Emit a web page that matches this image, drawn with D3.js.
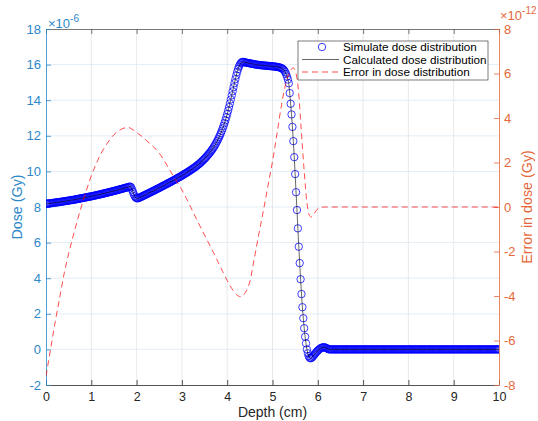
<!DOCTYPE html>
<html>
<head>
<meta charset="utf-8">
<script src="https://cdn.jsdelivr.net/npm/d3@7"></script>
<style>
body { margin: 0; background: #fff; }
text { font-family: "Liberation Sans", Arial, Helvetica, sans-serif; }
</style>
</head>
<body>
<div id="chart"></div>
<script>
var width = 538,
    height = 421;
var margin = {left: 46, right: 39, top: 29, bottom: 36};

var blue = "#2b87c8",
    orange = "#e5683a",
    gray = "#262626";

// dose, x1e-6 Gy, one value every 0.02 cm from 0 to 10 cm
var depthStep = 0.02;
var dose = [
  8.18, 8.19, 8.19, 8.20, 8.21, 8.21, 8.22, 8.22, 8.23, 8.24,       // 0.0
  8.25, 8.25, 8.26, 8.27, 8.27, 8.28, 8.29, 8.30, 8.30, 8.31,       // 0.2
  8.32, 8.33, 8.34, 8.34, 8.35, 8.36, 8.37, 8.38, 8.39, 8.39,       // 0.4
  8.40, 8.41, 8.42, 8.43, 8.44, 8.45, 8.46, 8.47, 8.48, 8.49,       // 0.6
  8.50, 8.51, 8.52, 8.53, 8.54, 8.55, 8.56, 8.57, 8.58, 8.59,       // 0.8
  8.60, 8.61, 8.62, 8.63, 8.64, 8.66, 8.67, 8.68, 8.69, 8.70,       // 1.0
  8.71, 8.73, 8.74, 8.75, 8.76, 8.77, 8.79, 8.80, 8.81, 8.82,       // 1.2
  8.84, 8.85, 8.86, 8.87, 8.89, 8.90, 8.91, 8.93, 8.94, 8.95,       // 1.4
  8.97, 8.98, 9.00, 9.01, 9.02, 9.04, 9.05, 9.07, 9.08, 9.09,       // 1.6
  9.11, 9.12, 9.14, 9.15, 9.10, 8.98, 8.84, 8.71, 8.60, 8.53,       // 1.8
  8.49, 8.49, 8.50, 8.52, 8.54, 8.57, 8.59, 8.62, 8.64, 8.67,       // 2.0
  8.69, 8.72, 8.74, 8.77, 8.79, 8.82, 8.84, 8.87, 8.89, 8.92,       // 2.2
  8.94, 8.97, 9.00, 9.02, 9.05, 9.07, 9.10, 9.13, 9.15, 9.18,       // 2.4
  9.21, 9.23, 9.26, 9.29, 9.31, 9.34, 9.37, 9.39, 9.42, 9.45,       // 2.6
  9.48, 9.50, 9.53, 9.56, 9.59, 9.62, 9.65, 9.68, 9.70, 9.73,       // 2.8
  9.76, 9.79, 9.83, 9.86, 9.89, 9.92, 9.95, 9.98, 10.02, 10.05,     // 3.0
  10.08, 10.12, 10.15, 10.19, 10.22, 10.26, 10.30, 10.34, 10.38, 10.42, // 3.2
  10.46, 10.51, 10.56, 10.61, 10.66, 10.71, 10.76, 10.82, 10.88, 10.94, // 3.4
  11.00, 11.06, 11.13, 11.20, 11.27, 11.35, 11.43, 11.52, 11.61, 11.71, // 3.6
  11.81, 11.92, 12.03, 12.15, 12.28, 12.42, 12.56, 12.71, 12.87, 13.04, // 3.8
  13.22, 13.41, 13.61, 13.82, 14.04, 14.27, 14.50, 14.73, 14.96, 15.18, // 4.0
  15.39, 15.58, 15.75, 15.89, 16.00, 16.08, 16.13, 16.15, 16.15, 16.14, // 4.2
  16.12, 16.11, 16.10, 16.09, 16.08, 16.07, 16.06, 16.05, 16.04, 16.03, // 4.4
  16.02, 16.01, 16.00, 15.99, 15.99, 15.98, 15.97, 15.97, 15.96, 15.96, // 4.6
  15.95, 15.95, 15.94, 15.94, 15.93, 15.93, 15.92, 15.92, 15.91, 15.91, // 4.8
  15.90, 15.90, 15.89, 15.89, 15.88, 15.87, 15.86, 15.85, 15.84, 15.82, // 5.0
  15.80, 15.77, 15.73, 15.67, 15.58, 15.47, 15.33, 15.16, 14.95, 14.40, // 5.2
  13.80, 13.20, 12.50, 11.70, 10.80, 9.85, 8.83, 7.83, 6.80, 5.77,      // 5.4
  4.85, 3.94, 3.11, 2.37, 1.75, 1.19, 0.71, 0.34, 0.00, -0.22,          // 5.6
  -0.38, -0.47, -0.50, -0.48, -0.43, -0.37, -0.30, -0.24, -0.18, -0.12, // 5.8
  -0.07, -0.02, 0.02, 0.06, 0.09, 0.11, 0.12, 0.12, 0.11, 0.09,         // 6.0
  0.06, 0.03, 0.01, 0, 0, 0, 0, 0, 0, 0,                                // 6.2
  0, 0, 0, 0, 0, 0, 0, 0, 0, 0,                                         // 6.4
  0, 0, 0, 0, 0, 0, 0, 0, 0, 0,                                         // 6.6
  0, 0, 0, 0, 0, 0, 0, 0, 0, 0,                                         // 6.8
  0, 0, 0, 0, 0, 0, 0, 0, 0, 0,                                         // 7.0
  0, 0, 0, 0, 0, 0, 0, 0, 0, 0,                                         // 7.2
  0, 0, 0, 0, 0, 0, 0, 0, 0, 0,                                         // 7.4
  0, 0, 0, 0, 0, 0, 0, 0, 0, 0,                                         // 7.6
  0, 0, 0, 0, 0, 0, 0, 0, 0, 0,                                         // 7.8
  0, 0, 0, 0, 0, 0, 0, 0, 0, 0,                                         // 8.0
  0, 0, 0, 0, 0, 0, 0, 0, 0, 0,                                         // 8.2
  0, 0, 0, 0, 0, 0, 0, 0, 0, 0,                                         // 8.4
  0, 0, 0, 0, 0, 0, 0, 0, 0, 0,                                         // 8.6
  0, 0, 0, 0, 0, 0, 0, 0, 0, 0,                                         // 8.8
  0, 0, 0, 0, 0, 0, 0, 0, 0, 0,                                         // 9.0
  0, 0, 0, 0, 0, 0, 0, 0, 0, 0,                                         // 9.2
  0, 0, 0, 0, 0, 0, 0, 0, 0, 0,                                         // 9.4
  0, 0, 0, 0, 0, 0, 0, 0, 0, 0,                                         // 9.6
  0, 0, 0, 0, 0, 0, 0, 0, 0, 0,                                         // 9.8
  0                                                                     // 10.0
];

// error in dose, x1e-12 Gy
var errDepth = [0, 0.1, 0.2, 0.3, 0.4, 0.5, 0.6, 0.7, 0.8, 0.9,
  1.0, 1.1, 1.2, 1.3, 1.4, 1.5, 1.6, 1.7, 1.8, 1.9,
  2.0, 2.1, 2.2, 2.3, 2.4, 2.5, 2.6, 2.7, 2.8, 2.9,
  3.0, 3.1, 3.2, 3.3, 3.4, 3.5, 3.6, 3.7, 3.8, 3.9,
  4.0, 4.1, 4.2, 4.3, 4.4, 4.5, 4.6, 4.7, 4.8, 4.9,
  5.0, 5.1, 5.2, 5.3, 5.4, 5.46, 5.52, 5.57, 5.63, 5.7,
  5.76, 5.82, 5.86, 5.92, 5.98, 6.06, 6.15, 7, 8, 9, 10];
var errVal = [-7.6, -6.4, -5.2, -4.1, -3.0, -2.1, -1.3, -0.55, 0.15, 0.8,
  1.4, 1.9, 2.35, 2.7, 3.0, 3.25, 3.42, 3.53, 3.58, 3.5,
  3.35, 3.2, 3.02, 2.84, 2.65, 2.42, 2.12, 1.77, 1.43, 1.1,
  0.77, 0.38, -0.03, -0.45, -0.86, -1.26, -1.66, -2.06, -2.48, -2.9,
  -3.3, -3.66, -3.93, -4.03, -3.85, -3.35, -2.3, -1.2, -0.15, 0.95,
  2.05, 3.3, 4.6, 5.6, 6.15, 6.25, 6.0, 5.3, 3.6, 1.6,
  0.2, -0.4, -0.45, -0.3, -0.12, -0.02, 0, 0, 0, 0, 0];

var xTicks = [0, 1, 2, 3, 4, 5, 6, 7, 8, 9, 10];
var yLeftTicks = [-2, 0, 2, 4, 6, 8, 10, 12, 14, 16, 18];
var yRightTicks = [-8, -6, -4, -2, 0, 2, 4, 6, 8];
var legendNames = ["Simulate dose distribution", "Calculated dose distribution", "Error in dose distribution"];

var doseData = dose.map(function (d, i) { return {x: i * depthStep, y: d}; });
var errData = errVal.map(function (d, i) { return {x: errDepth[i], y: d}; });

var x = d3.scaleLinear().domain([0, 10]).range([margin.left, width - margin.right]);
var yL = d3.scaleLinear().domain([-2, 18]).range([height - margin.bottom, margin.top]);
var yR = d3.scaleLinear().domain([-8, 8]).range([height - margin.bottom, margin.top]);

var svg = d3.select("#chart").append("svg")
    .attr("width", width)
    .attr("height", height);

svg.append("defs").append("clipPath").attr("id", "plot")
  .append("rect")
    .attr("x", margin.left).attr("y", margin.top)
    .attr("width", width - margin.left - margin.right)
    .attr("height", height - margin.top - margin.bottom);

// grid
svg.append("g").selectAll("line")
    .data(xTicks.slice(1, -1))
    .enter().append("line")
    .attr("x1", function (d) { return x(d); })
    .attr("x2", function (d) { return x(d); })
    .attr("y1", margin.top)
    .attr("y2", height - margin.bottom)
    .attr("stroke", "#e3e3e3")
    .attr("stroke-width", 0.8);
svg.append("g").selectAll("line")
    .data(yLeftTicks.slice(1, -1))
    .enter().append("line")
    .attr("x1", margin.left)
    .attr("x2", width - margin.right)
    .attr("y1", function (d) { return yL(d); })
    .attr("y2", function (d) { return yL(d); })
    .attr("stroke", "#dce9f4")
    .attr("stroke-width", 0.8);

// axes
function styleAxis(g, col, size) {
  g.select(".domain").attr("stroke", col).attr("stroke-width", 0.8);
  g.selectAll(".tick line").attr("stroke", col).attr("stroke-width", 0.8);
  g.selectAll(".tick text").attr("fill", col).style("font-size", size + "px")
    .style("font-family", '"Liberation Sans", Arial, sans-serif');
}

svg.append("g")
    .attr("transform", "translate(0," + margin.top + ")")
    .call(d3.axisTop(x).tickValues(xTicks).tickSizeInner(-5).tickSizeOuter(0).tickFormat(""))
    .call(styleAxis, "#555", 13);
svg.append("g")
    .attr("transform", "translate(0," + (height - margin.bottom) + ")")
    .call(d3.axisBottom(x).tickValues(xTicks).tickSizeInner(-5).tickSizeOuter(0).tickPadding(7))
    .call(styleAxis, gray, 12.5);
svg.append("g")
    .attr("transform", "translate(" + margin.left + ",0)")
    .call(d3.axisLeft(yL).tickValues(yLeftTicks).tickSizeInner(-5).tickSizeOuter(0).tickPadding(5))
    .call(styleAxis, blue, 13);
svg.append("g")
    .attr("transform", "translate(" + (width - margin.right) + ",0)")
    .call(d3.axisRight(yR).tickValues(yRightTicks).tickSizeInner(-5).tickSizeOuter(0).tickPadding(5)
      .tickFormat(d3.format("d")))
    .call(styleAxis, orange, 13);
svg.selectAll(".tick text").text(function () { return d3.select(this).text().replace("\u2212", "-"); });

// exponent labels
var expL = svg.append("text").attr("x", 48).attr("y", 28).attr("fill", blue).style("font-size", "13px");
expL.append("tspan").text("\u00d710");
expL.append("tspan").attr("dy", -6).style("font-size", "10px").text("-6");
var expR = svg.append("text").attr("x", 500).attr("y", 20).attr("fill", orange).style("font-size", "13px");
expR.append("tspan").text("\u00d710");
expR.append("tspan").attr("dy", -6).style("font-size", "10px").text("-12");

// axis titles
svg.append("text")
    .attr("x", (margin.left + width - margin.right) / 2)
    .attr("y", 417)
    .attr("text-anchor", "middle")
    .attr("fill", gray)
    .style("font-size", "14px")
    .text("Depth (cm)");
svg.append("text")
    .attr("transform", "translate(22," + (margin.top + height - margin.bottom) / 2 + ") rotate(-90)")
    .attr("text-anchor", "middle")
    .attr("fill", blue)
    .style("font-size", "14.3px")
    .text("Dose (Gy)");
svg.append("text")
    .attr("transform", "translate(532," + (margin.top + height - margin.bottom) / 2 + ") rotate(-90)")
    .attr("text-anchor", "middle")
    .attr("fill", orange)
    .style("font-size", "14.3px")
    .text("Error in dose (Gy)");

// data
var plot = svg.append("g").attr("clip-path", "url(#plot)");

plot.selectAll("circle")
    .data(doseData)
    .enter().append("circle")
    .attr("cx", function (d) { return x(d.x); })
    .attr("cy", function (d) { return yL(d.y); })
    .attr("r", 3.7)
    .attr("fill", "none")
    .attr("stroke", "#0000ff")
    .attr("stroke-width", 0.75);

plot.append("path")
    .datum(doseData)
    .attr("fill", "none")
    .attr("stroke", "#000")
    .attr("stroke-width", 0.6)
    .attr("d", d3.line().x(function (d) { return x(d.x); }).y(function (d) { return yL(d.y); }));

plot.append("path")
    .datum(errData)
    .attr("fill", "none")
    .attr("stroke", "#ff0000")
    .attr("stroke-width", 0.7)
    .attr("stroke-dasharray", "6,4")
    .attr("d", d3.line().curve(d3.curveMonotoneX)
      .x(function (d) { return x(d.x); }).y(function (d) { return yR(d.y); }));

// legend
var lg = svg.append("g").attr("transform", "translate(298,41)");
lg.append("rect")
    .attr("width", 190).attr("height", 39)
    .attr("fill", "#fff").attr("stroke", gray).attr("stroke-width", 0.6);
var rows = lg.selectAll("g.row")
    .data(legendNames)
    .enter().append("g")
    .attr("class", "row")
    .attr("transform", function (d, i) { return "translate(0," + (6 + i * 12.5) + ")"; });
rows.append("text")
    .attr("x", 45)
    .attr("y", 4)
    .attr("fill", "#000")
    .style("font-size", "11.7px")
    .text(function (d) { return d; });
rows.filter(function (d, i) { return i === 0; }).append("circle")
    .attr("cx", 24).attr("cy", 0).attr("r", 3.7)
    .attr("fill", "none").attr("stroke", "#0000ff").attr("stroke-width", 0.75);
rows.filter(function (d, i) { return i > 0; }).append("line")
    .attr("x1", 4).attr("x2", 41).attr("y1", 0).attr("y2", 0)
    .attr("stroke", function (d, i) { return i === 0 ? "#000" : "#ff0000"; })
    .attr("stroke-width", function (d, i) { return i === 0 ? 0.6 : 0.7; })
    .attr("stroke-dasharray", function (d, i) { return i === 0 ? null : "6,4"; });
</script>
</body>
</html>
